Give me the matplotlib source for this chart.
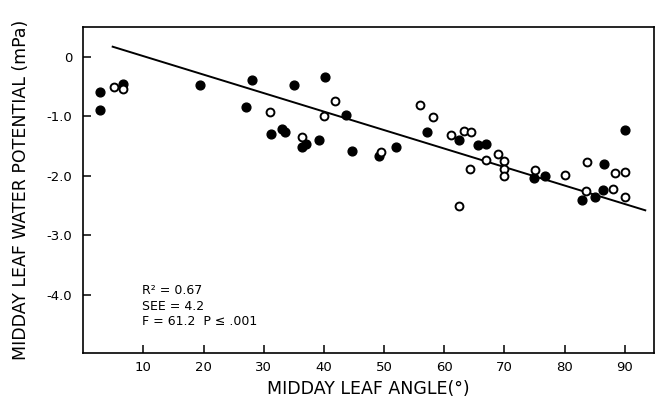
import matplotlib
matplotlib.use("Agg")
import numpy as np
import matplotlib.pyplot as plt

# filled circles
filled_x = [2.8, 2.8, 6.6, 19.4, 28.0, 27.1, 35.0, 31.2, 33.0, 33.6, 36.4, 37.1,
            39.2, 40.1, 43.7, 44.6, 49.1, 51.9, 57.1, 62.4, 65.6, 66.9, 74.9, 76.7,
            86.5, 90.1, 86.3, 82.9, 85.1]
filled_y = [-0.59, -0.90, -0.46, -0.47, -0.39, -0.85, -0.47, -1.30, -1.21, -1.26, -1.51, -1.47,
            -1.40, -0.34, -0.98, -1.58, -1.66, -1.51, -1.27, -1.39, -1.48, -1.46, -2.03, -2.00,
            -1.81, -1.23, -2.24, -2.40, -2.35]

# open circles
open_x = [5.2, 6.6, 31.1, 36.3, 40.0, 41.8, 49.5, 55.9, 58.2, 61.1, 63.2, 64.5,
          64.3, 66.9, 68.9, 70.0, 69.9, 69.9, 75.0, 80.0, 83.7, 88.4, 90.1, 83.5,
          88.0, 90.1, 62.5]
open_y = [-0.50, -0.54, -0.93, -1.35, -1.00, -0.74, -1.60, -0.81, -1.02, -1.31, -1.25, -1.27,
          -1.88, -1.73, -1.64, -1.75, -1.88, -2.01, -1.91, -1.99, -1.77, -1.96, -1.94, -2.26,
          -2.22, -2.36, -2.50]

# regression line end points
line_x = [4.9, 93.4]
line_y = [0.17, -2.58]

x_ticks = [10, 20, 30, 40, 50, 60, 70, 80, 90]
y_ticks = [0, -1, -2, -3, -4]
y_tick_labels = ["0", "-1.0", "-2.0", "-3.0", "-4.0"]

fig = plt.figure(figsize=(6.55, 4.04), dpi=100)
ax = fig.add_axes([0.127, 0.126, 0.871, 0.807])

ax.plot(line_x, line_y, color="black", lw=1.4, zorder=1)
ax.scatter(filled_x, filled_y, s=40, color="black", zorder=2)
ax.scatter(open_x, open_y, s=32, facecolor="white", edgecolor="black",
           linewidth=1.4, zorder=3)

ax.set_xlim(0, 94.8)
ax.set_ylim(-4.98, 0.5)
ax.set_xticks(x_ticks)
ax.set_yticks(y_ticks)
ax.set_yticklabels(y_tick_labels)
ax.tick_params(direction="in", length=6, width=1.1, labelsize=9.5)
ax.tick_params(axis="x", pad=6)
ax.tick_params(axis="y", pad=8)
for s in ax.spines.values():
    s.set_linewidth(1.2)

ax.set_xlabel("MIDDAY LEAF ANGLE(°)", fontsize=12.5, labelpad=4)
ax.set_ylabel("MIDDAY LEAF WATER POTENTIAL (mPa)", fontsize=12.5, labelpad=12)

ax.text(9.7, -3.82, "R² = 0.67\nSEE = 4.2\nF = 61.2  P ≤ .001", fontsize=9,
        va="top", ha="left", linespacing=1.25, transform=ax.transData)

fig.savefig("out.png", dpi=100)
